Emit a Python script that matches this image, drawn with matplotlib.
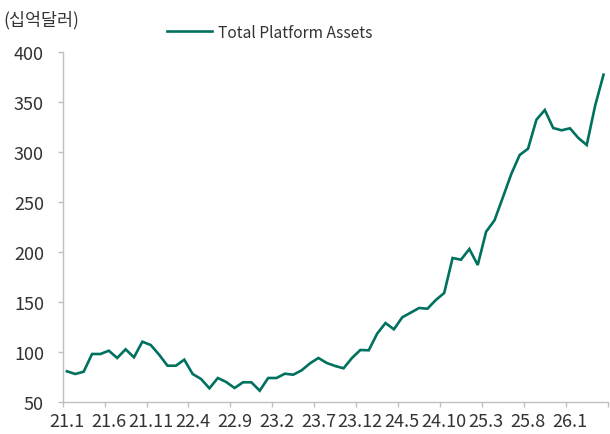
import matplotlib
matplotlib.use("Agg")
import matplotlib.pyplot as plt
from matplotlib.lines import Line2D

plt.rcParams['font.family'] = ['Noto Sans CJK KR', 'DejaVu Sans']

months = []
for y in range(21, 27):
    for m in range(1, 13):
        months.append(f"{y}.{m}")
months = months[:65]  # 21.1 .. 26.5

values = [81, 78.3, 80.6, 98.3, 98.3, 101.6, 94.3, 103, 95, 110.6,
          107.3, 97.6, 86.6, 86.6, 92.6, 78.3, 73.3, 64, 74.3, 70.3,
          64.3, 70, 70, 61.6, 74.3, 74.3, 78.6, 77.6, 82, 89,
          94.3, 89.3, 86.3, 84, 94.3, 102.3, 102, 118.6, 129.3, 123,
          135, 139.6, 144.3, 143.6, 152.3, 159.3, 194.3, 192.6, 203.3, 187.3,
          220.6, 232, 255, 278.3, 297.3, 303.6, 332.6, 342.3, 324.3, 322,
          324, 314.3, 307.3, 346.6, 377.6]

series_name = "Total Platform Assets"
unit_label = "(십억달러)"
yticks = [50, 100, 150, 200, 250, 300, 350, 400]

line_color = "#00705F"
grey = "#BFBFBF"
text_color = "#333333"

fig = plt.figure(figsize=(6.10, 4.35), dpi=100)
ax = fig.add_axes([62.7 / 610, (435 - 403.3) / 435, (607.7 - 62.7) / 610, (403.3 - 53.3) / 435])

x = list(range(len(values)))
ax.plot(x, values, color=line_color, lw=1.9, solid_joinstyle='miter')

ax.set_xlim(-0.5, len(values) - 0.5)
ax.set_ylim(50, 400)
ax.set_yticks(yticks)
ax.set_yticklabels([str(v) for v in yticks])

major = list(range(0, len(values), 5))
ax.set_xticks(major)
ax.set_xticklabels([months[i] for i in major])
ax.set_xticks([i - 0.5 for i in range(0, len(values) + 1, 5)], minor=True)

ax.tick_params(axis='x', which='major', length=0, pad=7, labelsize=13, colors=text_color)
ax.tick_params(axis='x', which='minor', length=3.5, width=1, color=grey, direction='out')
ax.tick_params(axis='y', which='major', length=3.5, width=1, color=grey, direction='out',
               pad=10, labelsize=13, labelcolor=text_color)

for s in ['top', 'right']:
    ax.spines[s].set_visible(False)
for s in ['left', 'bottom']:
    ax.spines[s].set_color(grey)
    ax.spines[s].set_linewidth(1)

fig.text(3 / 610, 1 - 20 / 435, unit_label, fontsize=12.5, color=text_color, va='center', ha='left')

handle = Line2D([0], [0], color=line_color, lw=1.9)
fig.legend([handle], [series_name], loc='center left',
           bbox_to_anchor=(153 / 610, 1 - 33 / 435), frameon=False,
           fontsize=11.2, handlelength=2.9, handletextpad=0.35, labelcolor=text_color)

fig.savefig("out.png", dpi=100)
